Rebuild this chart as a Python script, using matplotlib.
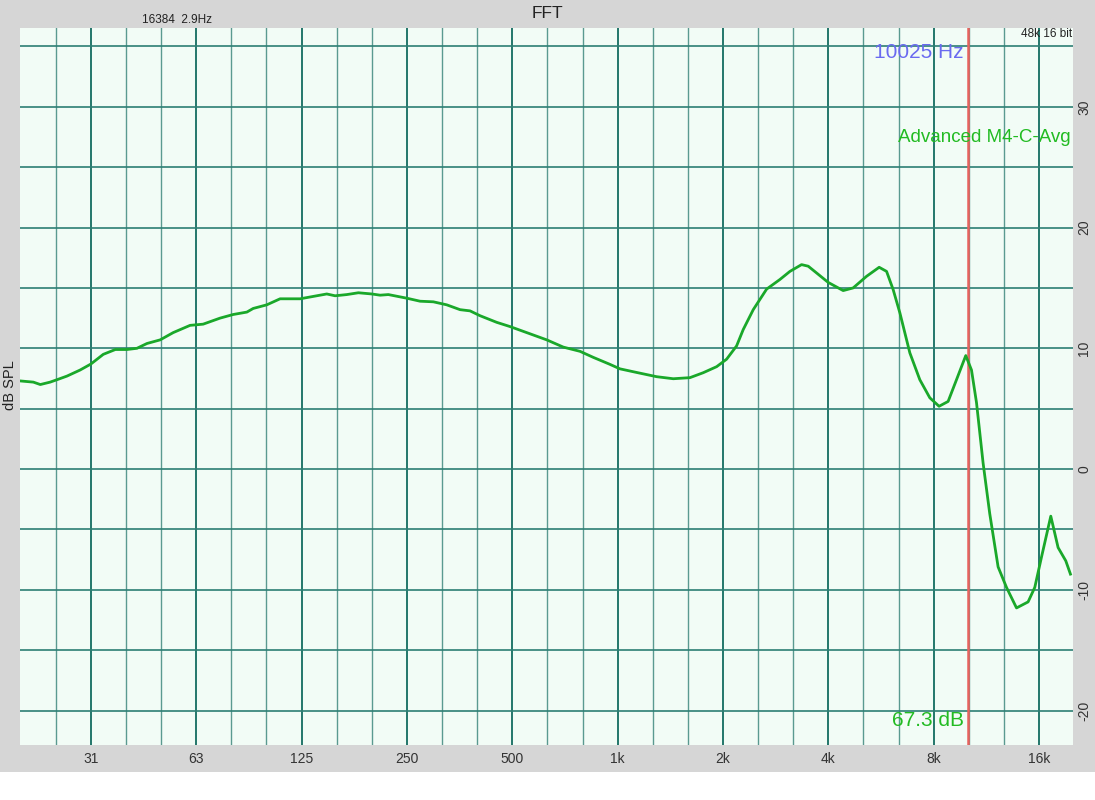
import matplotlib.pyplot as plt
from matplotlib.patches import Rectangle
from matplotlib.ticker import NullFormatter

# Respuesta en frecuencia (dB)
freq_hz = [19.6, 21.4, 22.4, 23.9, 25.0, 26.7, 29.1, 31.25, 33.9, 36.7,
           39.6, 42.3, 45.2, 49.3, 53.7, 60.0, 65.4, 73.1, 79.7, 87.2,
           90.9, 99.4, 108.5, 123.8, 135.1, 147.5, 155.8, 168.3, 181.6, 198.3,
           209.5, 221.2, 249.7, 272.5, 297.4, 324.8, 354.5, 378.6, 404.3, 451.3,
           492.5, 549.7, 627.0, 699.3, 780.5, 851.8, 950.6, 1015, 1133, 1292,
           1442, 1609, 1756, 1918, 2048, 2187, 2284, 2440, 2664, 2908,
           3106, 3353, 3503, 3701, 3994, 4409, 4708, 5141, 5587, 5866,
           6126, 6403, 6837, 7300, 7797, 8287, 8794, 9293, 9878, 10257,
           10600, 11070, 11566, 12219, 12913, 13792, 14884, 15553, 16253, 17281,
           18132, 19072, 19668]
level_db = [7.3, 7.2, 7.0, 7.2, 7.4, 7.7, 8.2, 8.7, 9.5, 9.9,
            9.9, 10.0, 10.4, 10.7, 11.3, 11.9, 12.0, 12.5, 12.8, 13.0,
            13.3, 13.6, 14.1, 14.1, 14.3, 14.5, 14.35, 14.45, 14.6, 14.5,
            14.4, 14.45, 14.15, 13.9, 13.85, 13.6, 13.2, 13.1, 12.7, 12.15,
            11.8, 11.3, 10.7, 10.1, 9.75, 9.25, 8.67, 8.3, 8.0, 7.65,
            7.48, 7.57, 7.98, 8.48, 9.1, 10.2, 11.55, 13.2, 14.9, 15.7,
            16.37, 16.93, 16.8, 16.24, 15.46, 14.78, 15.0, 15.96, 16.71, 16.37,
            14.86, 12.93, 9.62, 7.4, 5.9, 5.2, 5.6, 7.4, 9.4, 8.2,
            5.5, 0.5, -3.7, -8.1, -9.8, -11.5, -11.0, -9.8, -7.3, -3.9,
            -6.5, -7.6, -8.7]

octave_hz = [31.25, 62.5, 125, 250, 500, 1000, 2000, 4000, 8000, 16000]
octave_labels = ["31", "63", "125", "250", "500", "1k", "2k", "4k", "8k", "16k"]
third_octave_hz = [31.25 * 2 ** (k / 3) for k in range(-1, 29)]
db_ticks = [-20, -10, 0, 10, 20, 30]
db_grid = [-20, -15, -10, -5, 0, 5, 10, 15, 20, 25, 30, 35]
cursor_hz = 10000

plt.rcParams['font.family'] = ['Liberation Sans', 'DejaVu Sans']
plt.rcParams['axes.unicode_minus'] = False

W, H = 1095, 800
fig = plt.figure(figsize=(W / 100, H / 100), dpi=100, facecolor="#d6d6d6")
fig.add_artist(Rectangle((0, 0), 1, 28 / H, transform=fig.transFigure,
                         facecolor="white", edgecolor="none"))

ax = fig.add_axes([20 / W, 55 / H, 1053 / W, 716.7 / H])
ax.set_facecolor("#f2fcf6")
ax.set_xscale("log")
for s in ax.spines.values():
    s.set_visible(False)

ax.set_xticks(octave_hz)
ax.set_xticklabels(octave_labels)
ax.set_xticks([f for f in third_octave_hz if f not in octave_hz], minor=True)
ax.xaxis.set_minor_formatter(NullFormatter())
ax.set_yticks(db_ticks)
ax.set_yticks(db_grid, minor=True)
ax.set_xlim(19.6, 20000)
ax.set_ylim(-22.85, 36.5)
ax.yaxis.tick_right()
ax.tick_params(which="both", length=0)
ax.tick_params(axis="x", labelsize=10, labelcolor="#333333", pad=5)
ax.tick_params(axis="y", labelsize=10, labelcolor="#333333", pad=3,
               labelrotation=90)
for lab in ax.get_yticklabels():
    lab.set_verticalalignment("center")

ax.set_axisbelow(True)
ax.grid(which="major", axis="x", color="#23776b", lw=1.4)
ax.grid(which="minor", axis="x", color="#5a9a90", lw=1.0)
ax.grid(which="both", axis="y", color="#2d7f74", lw=1.2)

ax.axvline(cursor_hz, color="#e8625e", lw=1.8)
ax.plot(freq_hz, level_db, color="#1aa82a", lw=2.0)

fig.text(547 / W, 1 - 14 / H, "FFT", ha="center", va="center",
         fontsize=12.5, color="#222222")
fig.text(177 / W, 1 - 20 / H, "16384  2.9Hz", ha="center", va="center",
         fontsize=8.5, color="#222222")
fig.text(1072 / W, 1 - 34 / H, "48k 16 bit", ha="right", va="center",
         fontsize=8.5, color="#222222")
fig.text(964 / W, 1 - 53 / H, "10025 Hz", ha="right", va="center",
         fontsize=15, color="#6a6af0")
fig.text(1071 / W, 1 - 137 / H, "Advanced M4-C-Avg", ha="right", va="center",
         fontsize=13.5, color="#22bb22")
fig.text(964 / W, 1 - 720 / H, "67.3 dB", ha="right", va="center",
         fontsize=15, color="#22bb22")
fig.text(10 / W, 1 - 385 / H, "dB SPL", ha="center", va="center",
         rotation=90, fontsize=10.5, color="#222222")

fig.savefig("out.png", dpi=100, facecolor=fig.get_facecolor())
